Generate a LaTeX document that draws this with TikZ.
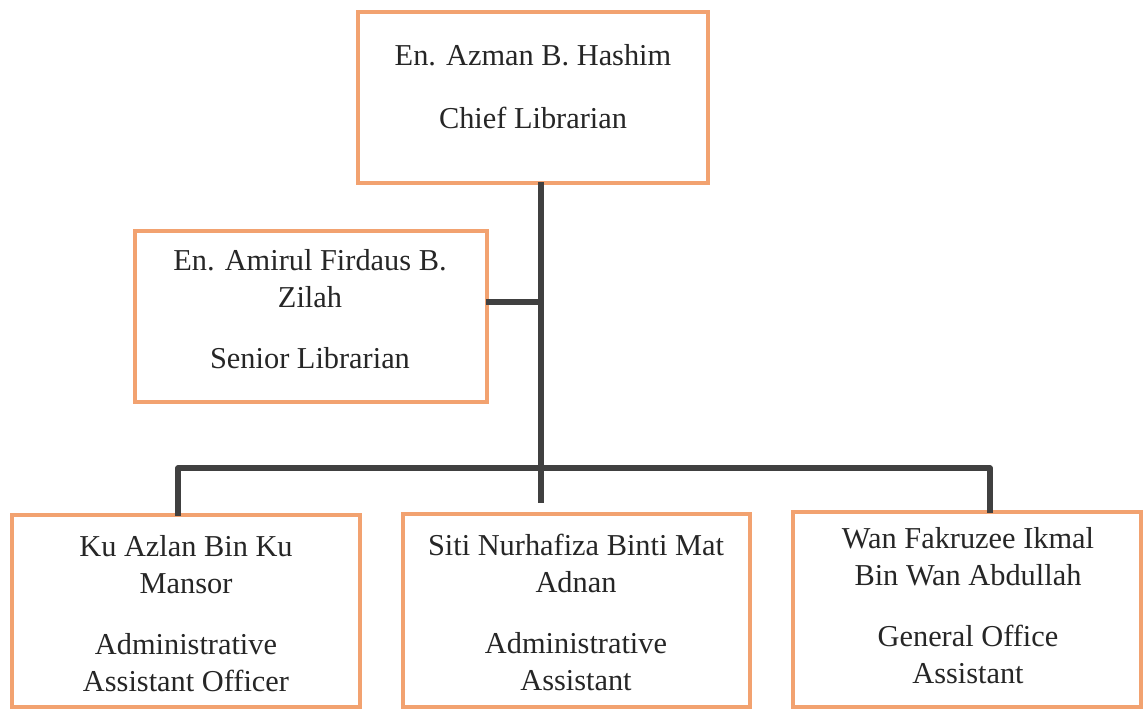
\documentclass[tikz,border=0pt]{standalone}
\usepackage{fontspec}
\newfontfamily\orgfont{Liberation Serif}
\usetikzlibrary{fit}
\definecolor{boxorange}{RGB}{242,162,112}
\definecolor{linegray}{RGB}{64,64,64}
\definecolor{inkgray}{RGB}{38,38,38}
\tikzset{
  orgbox/.style={draw=boxorange, line width=2pt, inner sep=0pt, fill=white},
  orgtext/.style={anchor=north, inner sep=0pt, align=center, text=inkgray,
    font={\orgfont\LARGE\baselineskip=21pt}},
  conn/.style={draw=linegray, line width=2.9pt, line cap=rect}
}
\newcommand{\gapline}{\\[13.7pt]}
\begin{document}
\begin{tikzpicture}[x=0.02cm, y=-0.02cm]
\useasboundingbox (0,0) rectangle (1143,708);

% boxes
\node[orgbox, fit={(358,12)(708,183)}] (chief) {};
\node[orgbox, fit={(135,231)(487,402)}] (senior) {};
\node[orgbox, fit={(12,515)(360,707)}] (kuazlan) {};
\node[orgbox, fit={(403,514)(750,707)}] (siti) {};
\node[orgbox, fit={(793,512)(1141,707)}] (wan) {};

% box texts
\node[orgtext] (chieft) at (533,38) {\strut En. Azman B. Hashim\\[15pt]Chief Librarian};
\node[orgtext] (seniort) at (310,243) {\strut En. Amirul Firdaus B.\\Zilah\gapline Senior Librarian};
\node[orgtext] (kuazlant) at (186,529) {\strut Ku Azlan Bin Ku\\Mansor\gapline Administrative\\Assistant Officer};
\node[orgtext] (sitit) at (576,528) {\strut Siti Nurhafiza Binti Mat\\Adnan\gapline Administrative\\Assistant};
\node[orgtext] (want) at (968,521) {\strut Wan Fakruzee Ikmal\\Bin Wan Abdullah\gapline General Office\\Assistant};

% connector points
\coordinate (hub) at (541,468);
\coordinate (seniorjoin) at (541,302);
\coordinate (barleft) at (178,468);
\coordinate (barright) at (990,468);
\coordinate (midend) at (541,500);

% connectors
\draw[conn] (hub |- chief.south) -- (hub);
\draw[conn] (senior.east |- seniorjoin) -- (seniorjoin);
\draw[conn, line join=round] (barleft |- kuazlan.north) -- (barleft) -- (barright) -- (barright |- wan.north);
\draw[conn] (hub) -- (midend);
\end{tikzpicture}
\end{document}
